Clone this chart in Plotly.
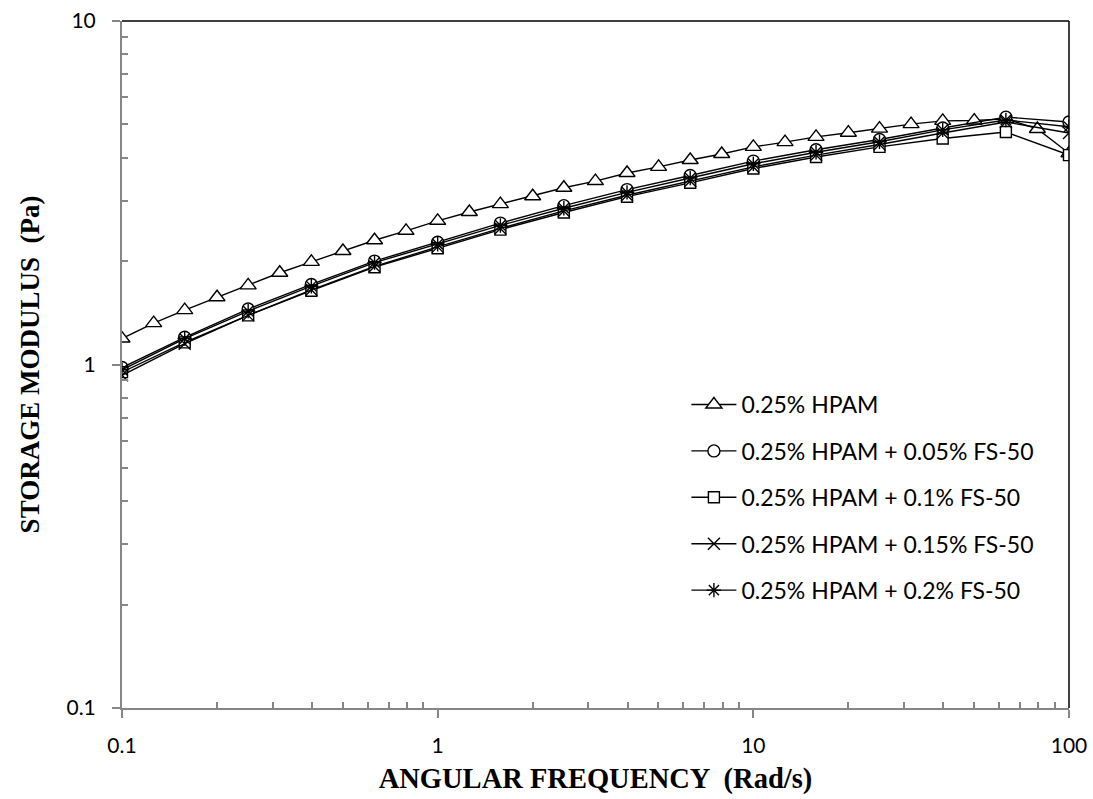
import plotly.graph_objects as go

# Angular frequency sweeps (rad/s)
freq_hpam = [0.1, 0.126, 0.158, 0.2, 0.251, 0.316, 0.398, 0.501, 0.631, 0.794,
             1, 1.26, 1.58, 2, 2.51, 3.16, 3.98, 5.01, 6.31, 7.94,
             10, 12.6, 15.8, 20, 25.1, 31.6, 39.8, 50.1, 63.1, 79.4, 100]
freq_fs = [0.1, 0.158, 0.251, 0.398, 0.631, 1, 1.58, 2.51, 3.98, 6.31,
           10, 15.8, 25.1, 39.8, 63.1, 100]

# Storage modulus G' (Pa)
g_hpam = [1.19, 1.32, 1.44, 1.57, 1.70, 1.85, 1.99, 2.14, 2.30, 2.45,
          2.62, 2.78, 2.93, 3.09, 3.27, 3.42, 3.61, 3.76, 3.94, 4.10,
          4.30, 4.44, 4.60, 4.73, 4.86, 5.01, 5.12, 5.13, 5.19, 4.85, 4.12]
g_fs005 = [0.98, 1.20, 1.45, 1.71, 2.00, 2.27, 2.58, 2.90, 3.23, 3.55,
           3.91, 4.22, 4.52, 4.88, 5.25, 5.08]
g_fs010 = [0.95, 1.16, 1.39, 1.64, 1.92, 2.18, 2.47, 2.77, 3.08, 3.38,
           3.72, 4.02, 4.30, 4.55, 4.75, 4.07]
g_fs015 = [0.93, 1.15, 1.39, 1.65, 1.93, 2.20, 2.49, 2.80, 3.11, 3.42,
           3.76, 4.07, 4.37, 4.72, 5.08, 4.72]
g_fs020 = [0.965, 1.19, 1.43, 1.69, 1.98, 2.24, 2.54, 2.85, 3.17, 3.49,
           3.84, 4.15, 4.45, 4.82, 5.15, 4.92]

series = [
    ("0.25% HPAM", freq_hpam, g_hpam, "triangle-up", "white", 14),
    ("0.25% HPAM + 0.05% FS-50", freq_fs, g_fs005, "circle", "white", 12),
    ("0.25% HPAM + 0.1% FS-50", freq_fs, g_fs010, "square", "white", 11),
    ("0.25% HPAM + 0.15% FS-50", freq_fs, g_fs015, "x-thin-open", "black", 12),
    ("0.25% HPAM + 0.2% FS-50", freq_fs, g_fs020, "asterisk-open", "black", 12),
]

fig = go.Figure()
for i, (name, xs, ys, sym, fill, size) in enumerate(series):
    fig.add_trace(go.Scatter(
        x=xs, y=ys, name=name, mode="lines+markers",
        legendgroup=f"g{i}",
        line=dict(color="black", width=1.4),
        marker=dict(symbol=sym, size=size, color=fill,
                    line=dict(color="black", width=1.4)),
    ))

tick_font = dict(family="Lato, Carlito, sans-serif", size=21, color="black")
serif = "Liberation Serif, Times New Roman, serif"

fig.update_xaxes(
    type="log", range=[-1, 2],
    tickvals=[0.1, 1, 10, 100], ticktext=["0.1", "1", "10", "100"],
    ticks="outside", ticklen=8, tickwidth=1.5, tickcolor="#868686",
    ticklabelstandoff=10,
    minor=dict(ticks="inside", ticklen=6, tickwidth=1.5, tickcolor="#868686",
               tickvals=[m * d for d in (0.1, 1, 10) for m in range(2, 10)]),
    showline=True, linecolor="#868686", linewidth=2,
    showgrid=False, zeroline=False,
    tickfont=tick_font,
    title=dict(text="<b>ANGULAR FREQUENCY  (Rad/s)</b>",
               font=dict(family=serif, size=28.5, color="black"), standoff=12),
)
fig.update_yaxes(
    type="log", range=[-1, 1],
    tickvals=[0.1, 1, 10], ticktext=["0.1", "1", "10"],
    ticks="outside", ticklen=8, tickwidth=1.5, tickcolor="#868686",
    ticklabelstandoff=12,
    minor=dict(ticks="inside", ticklen=6, tickwidth=1.5, tickcolor="#868686",
               tickvals=[m * d for d in (0.1, 1) for m in range(2, 10)]),
    showline=True, linecolor="#868686", linewidth=2,
    showgrid=False, zeroline=False,
    tickfont=tick_font,
    title=dict(text="<b>STORAGE MODULUS  (Pa)</b>",
               font=dict(family=serif, size=27, color="black"), standoff=19),
)

# Black frame on the top and right edges of the plotting area
fig.add_shape(type="line", xref="paper", yref="paper", x0=0, y0=1, x1=1, y1=1,
              line=dict(color="black", width=1.5))
fig.add_shape(type="line", xref="paper", yref="paper", x0=1, y0=0, x1=1, y1=1,
              line=dict(color="black", width=1.5))

fig.update_layout(
    autosize=True,
    margin=dict(l=122, r=24, t=21, b=91, autoexpand=False),
    paper_bgcolor="white", plot_bgcolor="white",
    legend=dict(x=0.596, y=0.473, xanchor="left", yanchor="top",
                font=dict(family="Lato, Carlito, sans-serif", size=23, color="black"),
                bgcolor="rgba(0,0,0,0)", tracegroupgap=13.5, itemwidth=45),
)

fig.write_html("out.html", default_width="100%", default_height="100%")
